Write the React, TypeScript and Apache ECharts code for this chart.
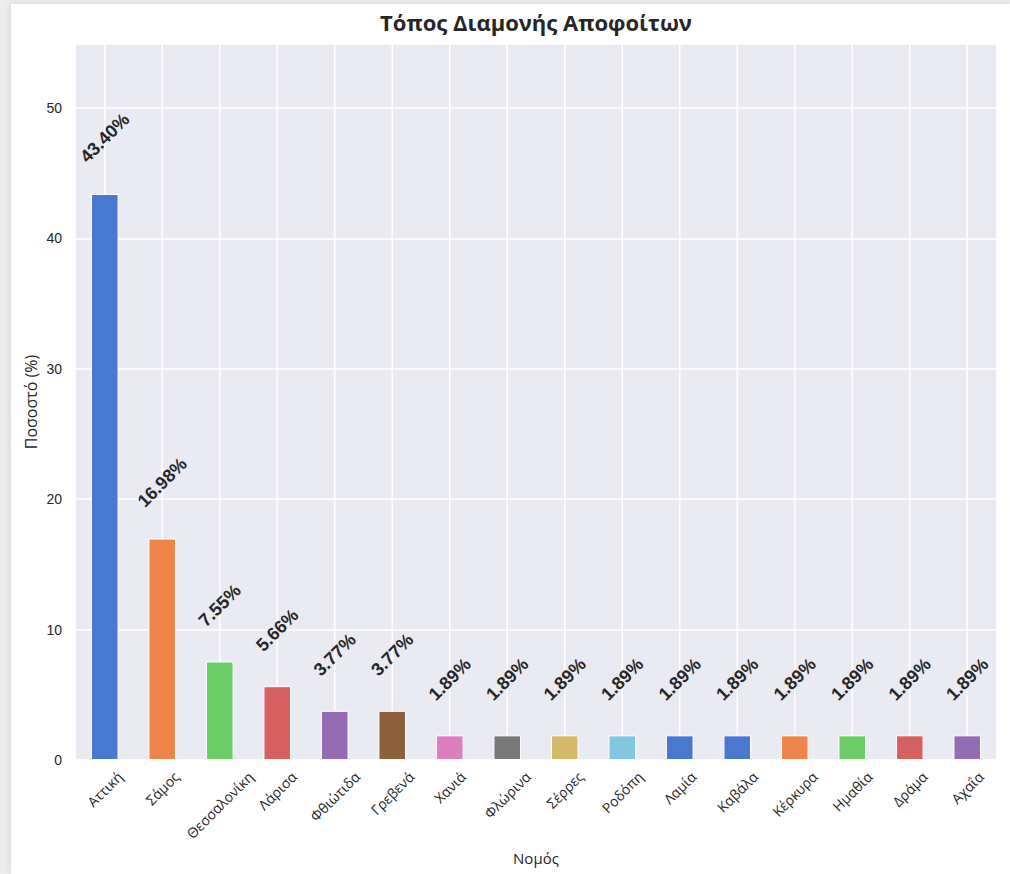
import React, { useEffect, useRef } from "react";
import * as echarts from "echarts";

const categories = [
  "Αττική", "Σάμος", "Θεσσαλονίκη", "Λάρισα", "Φθιώτιδα", "Γρεβενά",
  "Χανιά", "Φλώρινα", "Σέρρες", "Ροδόπη", "Λαμία", "Καβάλα",
  "Κέρκυρα", "Ημαθία", "Δράμα", "Αχαΐα",
];
const values = [
  43.4, 16.98, 7.55, 5.66, 3.77, 3.77,
  1.89, 1.89, 1.89, 1.89, 1.89, 1.89,
  1.89, 1.89, 1.89, 1.89,
];
const barColors = [
  "#4878D0", "#EE854A", "#6ACC64", "#D65F5F", "#956CB4", "#8C613C",
  "#DC7EC0", "#797979", "#D5BB67", "#82C6E2", "#4878D0", "#4878D0",
  "#EE854A", "#6ACC64", "#D65F5F", "#956CB4",
];
const yMin = 0;
const yMax = 54.9;
const yInterval = 10;

const titleText = "Τόπος Διαμονής Αποφοίτων";
const yName = "Ποσοστό (%)";
const xName = "Νομός";

const TICK_FONT_SIZE = 14;
const TICK_FONT_FAMILY = "'Open Sans', 'Noto Sans', sans-serif";
const TICK_FONT = `${TICK_FONT_SIZE}px ${TICK_FONT_FAMILY}`;
const TICK_GAP = 9;

function measure(text: string, font: string): number {
  const c = document.createElement("canvas");
  const ctx = c.getContext("2d");
  if (!ctx) return text.length * 7;
  ctx.font = font;
  return ctx.measureText(text).width;
}

export default function App() {
  const ref = useRef<HTMLDivElement>(null);

  useEffect(() => {
    if (!ref.current) return;
    const chart = echarts.init(ref.current, undefined, { renderer: "svg" });

    const widths = categories.map((c) => measure(c, TICK_FONT));
    const s45 = Math.SQRT1_2 / 2;

    chart.setOption({
      animation: false,
      backgroundColor: "#ffffff",
      title: {
        text: titleText,
        left: 525,
        top: 7,
        padding: 0,
        textAlign: "center",
        textStyle: {
          fontSize: 22,
          fontWeight: "bold",
          color: "#262626",
          fontFamily: "'Open Sans', 'Noto Sans', sans-serif",
        },
      },
      grid: {
        left: 65,
        right: 14,
        top: 40,
        bottom: 114,
        show: true,
        backgroundColor: "#EAEAF2",
        borderWidth: 0,
        containLabel: false,
      },
      xAxis: {
        type: "category",
        data: categories,
        name: xName,
        nameLocation: "middle",
        nameGap: 90,
        nameMoveOverlap: false,
        nameTextStyle: {
          fontSize: 15,
          color: "#262626",
          fontFamily: TICK_FONT_FAMILY,
        },
        axisLine: { show: false },
        axisTick: { show: false },
        splitLine: { show: false },
        axisLabel: { show: false },
      },
      yAxis: {
        type: "value",
        min: yMin,
        max: yMax,
        interval: yInterval,
        name: yName,
        nameLocation: "middle",
        nameGap: 37,
        nameMoveOverlap: false,
        nameTextStyle: {
          fontSize: 16,
          color: "#262626",
          fontFamily: TICK_FONT_FAMILY,
        },
        axisLine: { show: false },
        axisTick: { show: false },
        splitLine: {
          show: true,
          lineStyle: { color: "#ffffff", width: 1.5 },
        },
        axisLabel: {
          margin: 14,
          fontSize: 14,
          color: "#262626",
          fontFamily: "'Liberation Sans', Arial, sans-serif",
          showMaxLabel: false,
          formatter: (v: number) => (v % yInterval === 0 ? String(v) : ""),
        },
      },
      series: [
        {
          type: "custom",
          z: 1,
          silent: true,
          clip: false,
          data: categories.map((_, i) => [i, yMin]),
          encode: { x: 0, y: 1 },
          renderItem: (params: any, api: any) => {
            const i = api.value(0);
            const bottom = api.coord([i, yMin]);
            const top = api.coord([i, yMax]);
            const w = widths[i];
            const h = TICK_FONT_SIZE;
            return {
              type: "group",
              children: [
                {
                  type: "line",
                  shape: { x1: bottom[0], y1: bottom[1], x2: top[0], y2: top[1] },
                  style: { stroke: "#ffffff", lineWidth: 1.5 },
                },
                {
                  type: "text",
                  x: bottom[0],
                  y: bottom[1] + TICK_GAP + s45 * (w + h),
                  rotation: Math.PI / 4,
                  style: {
                    text: categories[i],
                    align: "center",
                    verticalAlign: "middle",
                    fill: "#262626",
                    font: TICK_FONT,
                  },
                },
              ],
            };
          },
        },
        {
          type: "bar",
          z: 2,
          data: values.map((v, i) => ({
            value: v,
            itemStyle: { color: barColors[i] },
          })),
          barWidth: "48%",
          itemStyle: { borderColor: "#ffffff", borderWidth: 1 },
          label: {
            show: true,
            position: "top",
            distance: 56,
            rotate: 45,
            align: "center",
            verticalAlign: "middle",
            fontSize: 18,
            fontWeight: "bold",
            color: "#262626",
            fontFamily: "'Liberation Sans', Arial, sans-serif",
            formatter: (p: any) => `${Number(p.value).toFixed(2)}%`,
          },
        },
      ],
    });

    return () => chart.dispose();
  }, []);

  return (
    <div
      style={{
        position: "fixed",
        left: 0,
        top: 0,
        width: 1010,
        height: 874,
        background: "#ededed",
        overflow: "hidden",
      }}
    >
      <div
        style={{
          position: "absolute",
          left: 11,
          top: 4,
          width: 999,
          height: 870,
          background: "#ffffff",
          boxShadow: "0 0 8px rgba(0,0,0,0.10)",
        }}
      >
        <div ref={ref} style={{ width: 999, height: 870 }} />
      </div>
    </div>
  );
}
